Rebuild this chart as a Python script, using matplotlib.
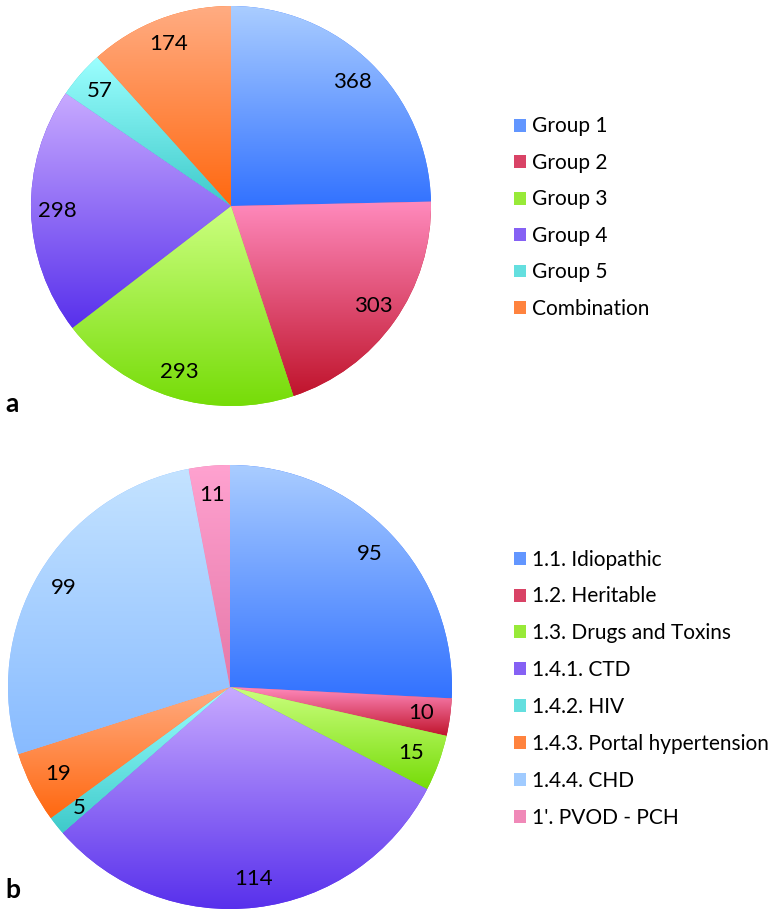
import matplotlib.pyplot as plt
import numpy as np
from matplotlib.colors import LinearSegmentedColormap, to_rgb
from matplotlib.patches import Patch

plt.rcParams['font.family'] = ['Lato', 'DejaVu Sans']

groups = ['Group 1', 'Group 2', 'Group 3', 'Group 4', 'Group 5', 'Combination']
group_counts = [368, 303, 293, 298, 57, 174]

subgroups = ['1.1. Idiopathic', '1.2. Heritable', '1.3. Drugs and Toxins', '1.4.1. CTD',
             '1.4.2. HIV', '1.4.3. Portal hypertension', '1.4.4. CHD', "1'. PVOD - PCH"]
subgroup_counts = [95, 10, 15, 114, 5, 19, 99, 11]

# (top, bottom) gradient colours
grad = {
    'blue': ('#aacdff', '#3272ff'),
    'red': ('#ff8abd', '#c0142c'),
    'green': ('#ccff80', '#76dc08'),
    'purple': ('#c8aaff', '#5830ec'),
    'cyan': ('#9cffff', '#3ecaca'),
    'orange': ('#ffac82', '#ff6810'),
    'lightblue': ('#c4e3ff', '#88bbff'),
    'pink': ('#ffa2d0', '#e678a8'),
}
colors_a = ['blue', 'red', 'green', 'purple', 'cyan', 'orange']
colors_b = ['blue', 'red', 'green', 'purple', 'cyan', 'orange', 'lightblue', 'pink']

W, H = 776, 919
fig = plt.figure(figsize=(W / 100, H / 100), dpi=100)


def px_axes(cx, cy, r):
    return fig.add_axes([(cx - r) / W, 1 - (cy + r) / H, 2 * r / W, 2 * r / H])


def gradient_pie(ax, values, keys):
    wedges, texts = ax.pie(values, startangle=90, counterclock=False,
                           labels=[str(v) for v in values], labeldistance=0.87,
                           colors=[grad[k][1] for k in keys],
                           wedgeprops=dict(linewidth=0))
    for t in texts:
        t.set_ha('center')
        t.set_va('center')
        t.set_fontsize(16)
        t.set_zorder(5)
    ramp = np.linspace(0, 1, 256).reshape(-1, 1)
    for w, k in zip(wedges, keys):
        ext = w.get_path().get_extents()
        cmap = LinearSegmentedColormap.from_list(k, [grad[k][0], grad[k][1]])
        im = ax.imshow(ramp, cmap=cmap, aspect='auto', origin='upper',
                       extent=(ext.x0, ext.x1, ext.y0, ext.y1), zorder=2,
                       interpolation='bilinear')
        im.set_clip_path(w)
    ax.set_xlim(-1, 1)
    ax.set_ylim(-1, 1)
    ax.set_aspect('equal')
    ax.axis('off')
    return wedges


ax_a = px_axes(231, 206, 200)
gradient_pie(ax_a, group_counts, colors_a)

ax_b = px_axes(230, 687, 222)
gradient_pie(ax_b, subgroup_counts, colors_b)


def mid(k):
    c1 = np.array(to_rgb(grad[k][0]))
    c2 = np.array(to_rgb(grad[k][1]))
    return tuple(0.4 * c1 + 0.6 * c2)


handles_a = [Patch(facecolor=mid(k), edgecolor='none') for k in colors_a]
handles_b = [Patch(facecolor=mid(k), edgecolor='none') for k in colors_b]

leg_kw = dict(frameon=False, fontsize=15, handlelength=0.58, handleheight=0.58,
              handletextpad=0.29, borderaxespad=0, borderpad=0)
fig.legend(handles_a, groups, loc='upper left', bbox_to_anchor=(514 / W, 1 - 116.5 / H),
           labelspacing=0.79, **leg_kw)
fig.legend(handles_b, subgroups, loc='upper left', bbox_to_anchor=(514 / W, 1 - 549.5 / H),
           labelspacing=0.81, **leg_kw)

fig.text(5 / W, 1 - 412 / H, 'a', fontsize=19, fontweight='bold', va='baseline')
fig.text(5 / W, 1 - 898 / H, 'b', fontsize=19, fontweight='bold', va='baseline')

fig.savefig('out.png', dpi=100)
